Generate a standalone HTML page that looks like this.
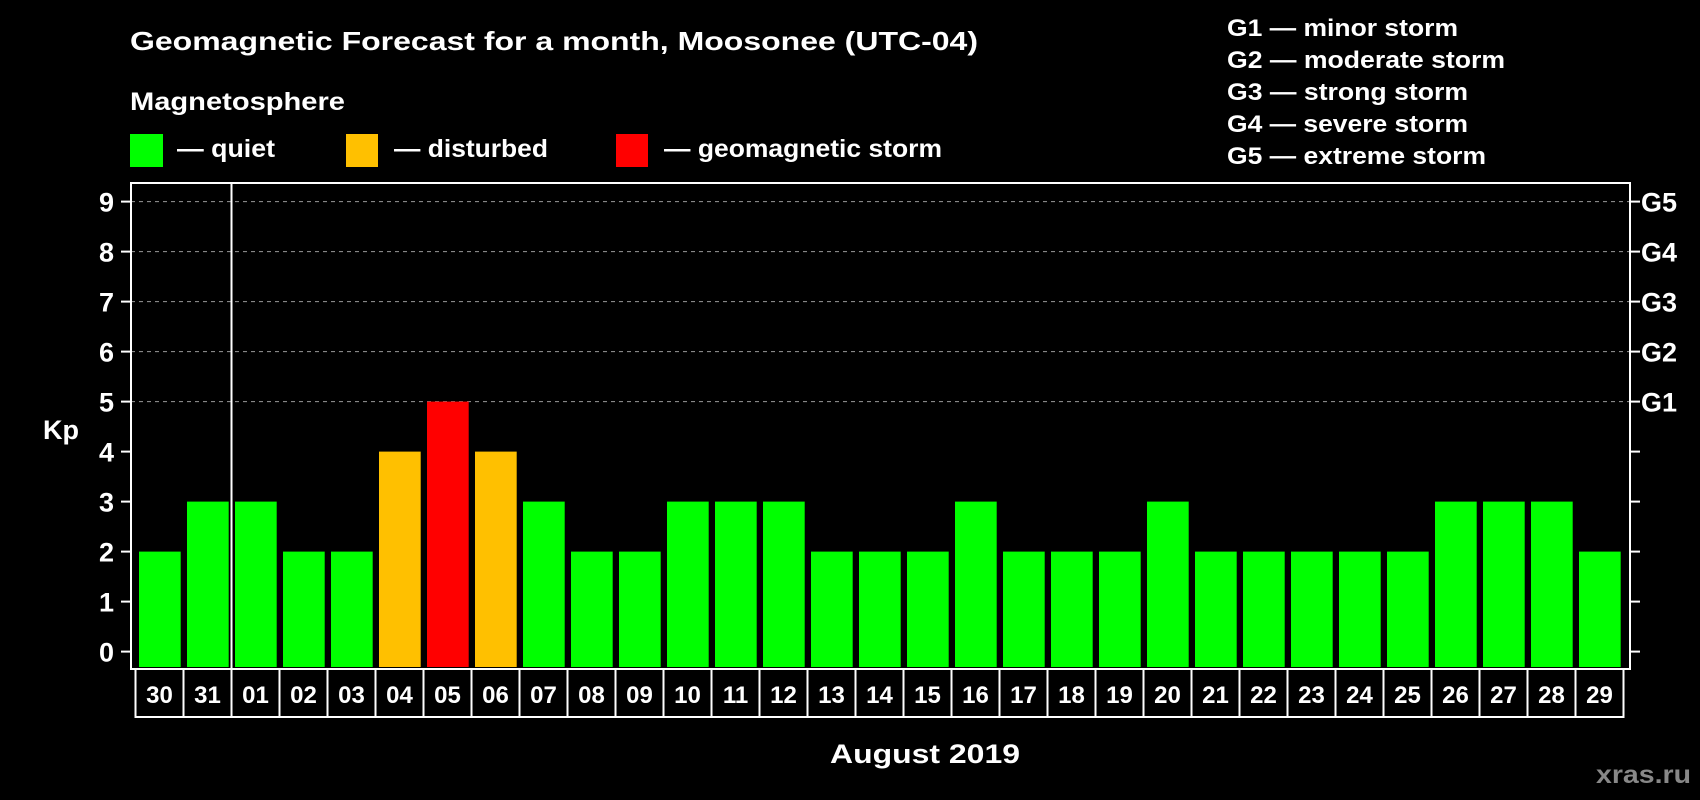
<!DOCTYPE html>
<html><head><meta charset="utf-8"><style>
html,body{margin:0;padding:0;background:#000;width:1700px;height:800px;overflow:hidden}
text{font-family:"Liberation Sans",Arial,sans-serif;font-weight:bold;fill:#fff}
</style></head><body>
<svg id="chart" width="1700" height="800" viewBox="0 0 1700 800" xmlns="http://www.w3.org/2000/svg">
<rect width="1700" height="800" fill="#000"/>
<text x="130" y="50" font-size="26" textLength="848" lengthAdjust="spacingAndGlyphs">Geomagnetic Forecast for a month, Moosonee (UTC-04)</text>
<text x="130" y="110" font-size="25" textLength="215" lengthAdjust="spacingAndGlyphs">Magnetosphere</text>
<g><rect x="130" y="134" width="33" height="33" fill="#00ff00"/><text x="177" y="157" font-size="25" textLength="98" lengthAdjust="spacingAndGlyphs">— quiet</text></g>
<g><rect x="346" y="134" width="32" height="33" fill="#ffc000"/><text x="394" y="157" font-size="25" textLength="154" lengthAdjust="spacingAndGlyphs">— disturbed</text></g>
<g><rect x="616" y="134" width="32" height="33" fill="#ff0000"/><text x="664" y="157" font-size="25" textLength="278" lengthAdjust="spacingAndGlyphs">— geomagnetic storm</text></g>
<g font-size="24">
<text x="1227" y="36" textLength="231" lengthAdjust="spacingAndGlyphs">G1 — minor storm</text>
<text x="1227" y="68" textLength="278" lengthAdjust="spacingAndGlyphs">G2 — moderate storm</text>
<text x="1227" y="100" textLength="241" lengthAdjust="spacingAndGlyphs">G3 — strong storm</text>
<text x="1227" y="132" textLength="241" lengthAdjust="spacingAndGlyphs">G4 — severe storm</text>
<text x="1227" y="164" textLength="259" lengthAdjust="spacingAndGlyphs">G5 — extreme storm</text>
</g>
<g id="plot"></g>
<text x="43" y="439" font-size="27">Kp</text>
<text x="925" y="763" font-size="27" text-anchor="middle" textLength="190" lengthAdjust="spacingAndGlyphs">August 2019</text>
<text x="1596" y="783" font-size="25" style="fill:#888" textLength="95" lengthAdjust="spacingAndGlyphs">xras.ru</text>
</svg>
<script>
const days = ["30","31","01","02","03","04","05","06","07","08","09","10","11","12","13","14","15","16","17","18","19","20","21","22","23","24","25","26","27","28","29"];
const kpValues = [2,3,3,2,2,4,5,4,3,2,2,3,3,3,2,2,2,3,2,2,2,3,2,2,2,2,2,3,3,3,2];
const yTicks = [0,1,2,3,4,5,6,7,8,9];
const gLabels = ["G1","G2","G3","G4","G5"];
const gLevels = [5,6,7,8,9];

const NS="http://www.w3.org/2000/svg";
const plotG=document.getElementById('plot');
const pL=131,pR=1630,pT=183,pB=669;
const slotX0=134.5,slotW=48;
const yS=v=>651.6-v*50;
const xS=i=>slotX0+i*slotW;
function mk(tag,attrs){const e=document.createElementNS(NS,tag);for(const k in attrs)e.setAttribute(k,attrs[k]);plotG.appendChild(e);return e;}
gLevels.forEach((g,i)=>{
  const l=mk('line',{x1:pL,x2:pR,y1:yS(g),y2:yS(g),stroke:'#999','stroke-width':1,'stroke-dasharray':'4,4'});
  
  
  const tx=mk('text',{x:1641,y:yS(g)+10,'font-size':27});
  tx.textContent=gLabels[i];
  
  
});
yTicks.forEach(v=>{
  mk('line',{x1:pL-10,x2:pL,y1:yS(v),y2:yS(v),stroke:'#fff','stroke-width':2});
  mk('line',{x1:pR,x2:pR+10,y1:yS(v),y2:yS(v),stroke:'#fff','stroke-width':2});
  const t=mk('text',{x:114,y:yS(v)+10,'font-size':27,'text-anchor':'end'});
  t.textContent=v;
  
  
});
kpValues.forEach((v,i)=>{
  const c=v>=5?'#ff0000':(v>=4?'#ffc000':'#00ff00');
  const b=mk('rect',{x:xS(i)+4.5,y:yS(v),width:41.7,height:pB-2-yS(v),fill:c});
  
  
});
const fr=mk('rect',{x:pL,y:pT,width:pR-pL,height:pB-pT,fill:'none',stroke:'#fff','stroke-width':2});


const dv=mk('line',{x1:xS(2)+1,x2:xS(2)+1,y1:pT,y2:pB,stroke:'#fff','stroke-width':2});


days.forEach((d,i)=>{
  const r=mk('rect',{x:xS(i)+1,y:pB,width:slotW,height:48,fill:'none',stroke:'#fff','stroke-width':2});
  
  
  const t=mk('text',{x:xS(i)+1+slotW/2,y:pB+34,'font-size':24,'text-anchor':'middle'});
  t.textContent=d;
  
  
});
</script>
</body></html>
